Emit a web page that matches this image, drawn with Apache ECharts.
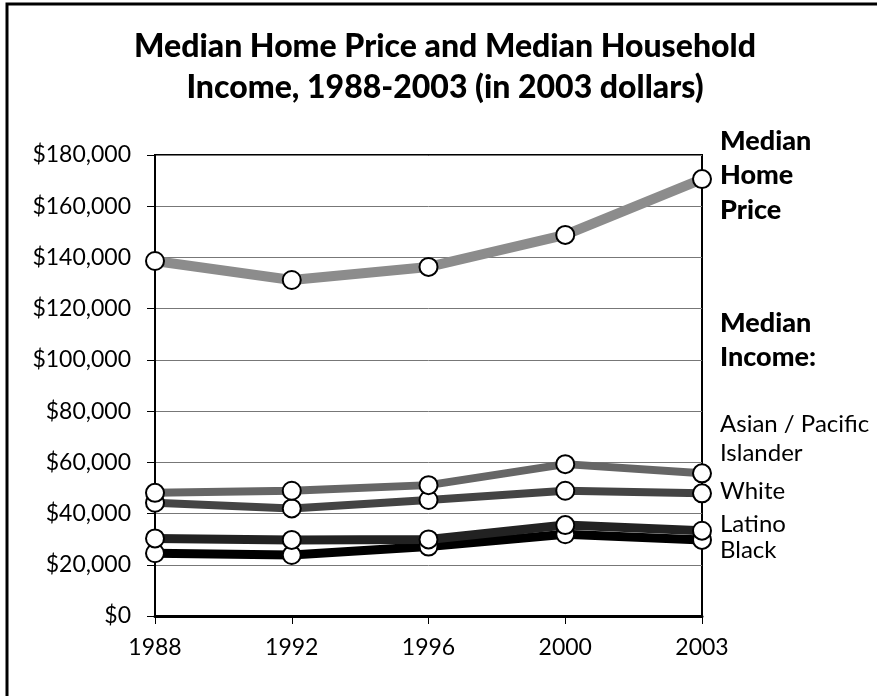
<!DOCTYPE html>
<html>
<head>
<meta charset="utf-8">
<script src="https://cdn.jsdelivr.net/npm/echarts@6/dist/echarts.min.js"></script>
<style>
  html, body { margin: 0; padding: 0; background: #fff; }
  #chart { width: 877px; height: 696px; }
</style>
</head>
<body>
<div id="chart"></div>
<script>
const years = ['1988', '1992', '1996', '2000', '2003'];
const homePrice = [138600, 131200, 136300, 148800, 170600];
const asianIncome = [48100, 48900, 51100, 59300, 55700];
const whiteIncome = [44200, 42000, 45300, 48900, 47900];
const latinoIncome = [30300, 29700, 29900, 35500, 33300];
const blackIncome = [24500, 23800, 27100, 31900, 29700];

const font = 'Lato, "DejaVu Sans", sans-serif';

const chart = echarts.init(document.getElementById('chart'));

function line(name, data, color, width) {
  return {
    name: name,
    type: 'line',
    data: data,
    symbol: 'circle',
    symbolSize: 18,
    showAllSymbol: true,
    lineStyle: { color: color, width: width },
    itemStyle: { color: '#fff', borderColor: '#000', borderWidth: 2 },
    emphasis: { disabled: true },
    animation: false
  };
}

const sideLabels = [
  { text: 'Median', y: 143, bold: true },
  { text: 'Home', y: 177, bold: true },
  { text: 'Price', y: 212, bold: true },
  { text: 'Median', y: 325, bold: true },
  { text: 'Income:', y: 359, bold: true },
  { text: 'Asian / Pacific', y: 427 },
  { text: 'Islander', y: 456 },
  { text: 'White', y: 494 },
  { text: 'Latino', y: 527 },
  { text: 'Black', y: 553 }
];

const option = {
  animation: false,
  title: {
    text: 'Median Home Price and Median Household\nIncome, 1988-2003 (in 2003 dollars)',
    left: 440,
    top: 21,
    textAlign: 'center',
    textStyle: {
      fontFamily: font,
      fontWeight: 900,
      fontSize: 32,
      lineHeight: 41,
      color: '#000'
    }
  },
  grid: {
    left: 155,
    right: 175,
    top: 155,
    bottom: 80,
    show: true,
    borderColor: '#000',
    borderWidth: 2
  },
  xAxis: {
    type: 'category',
    data: years,
    boundaryGap: false,
    axisLine: { lineStyle: { color: '#000', width: 3 } },
    axisTick: { show: true, length: 8, inside: false, lineStyle: { color: '#000', width: 1 } },
    axisLabel: { color: '#000', fontFamily: font, fontSize: 23, margin: 20 },
    splitLine: { show: false }
  },
  yAxis: {
    type: 'value',
    min: 0,
    max: 180000,
    interval: 20000,
    axisLine: { show: true, lineStyle: { color: '#000', width: 2 } },
    axisTick: { show: true, length: 8, lineStyle: { color: '#000', width: 1 } },
    axisLabel: {
      color: '#000',
      fontFamily: font,
      fontSize: 23,
      margin: 24,
      formatter: function (v) { return '$' + v.toLocaleString('en-US'); }
    },
    splitLine: { show: true, lineStyle: { color: '#777', width: 1 } }
  },
  graphic: [
    {
      type: 'polyline',
      shape: { points: [[7, 700], [7, 4], [880, 4]] },
      style: { fill: 'none', stroke: '#000', lineWidth: 3 },
      silent: true
    }
  ].concat(sideLabels.map(function (l) {
    return {
      type: 'text',
      left: 720,
      top: l.y - 15,
      silent: true,
      style: {
        text: l.text,
        fill: '#000',
        fontFamily: font,
        fontWeight: l.bold ? 900 : 'normal',
        fontSize: l.bold ? 27 : 24
      }
    };
  })),
  series: [
    line('Black', blackIncome, '#000', 9),
    line('Latino', latinoIncome, '#222', 9),
    line('White', whiteIncome, '#444', 8),
    line('Asian / Pacific Islander', asianIncome, '#666', 8),
    line('Median Home Price', homePrice, '#8c8c8c', 10)
  ]
};

chart.setOption(option);
</script>
</body>
</html>
